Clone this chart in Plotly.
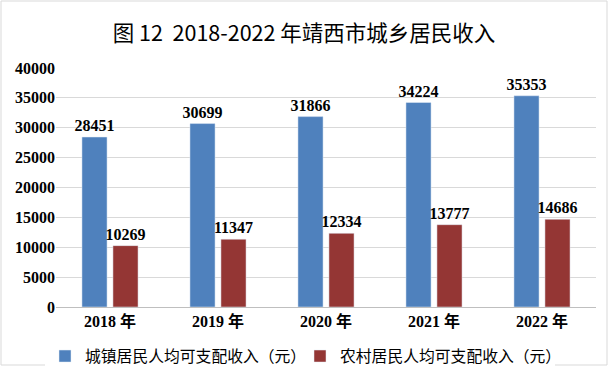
import plotly.graph_objects as go

years = ["2018 年", "2019 年", "2020 年", "2021 年", "2022 年"]
urban = [28451, 30699, 31866, 34224, 35353]
rural = [10269, 11347, 12334, 13777, 14686]
series_names = ["城镇居民人均可支配收入（元）", "农村居民人均可支配收入（元）"]
title_text = "图 12  2018-2022 年靖西市城乡居民收入"

W, H = 608, 366
ml, mr, mt, mb = 56, 12, 68, 59

serif = dict(family="Liberation Serif, Noto Sans CJK SC", size=16, color="#000000", weight="bold")

fig = go.Figure()
fig.add_trace(go.Bar(x=years, y=urban, name=series_names[0], marker_color="#4F81BD",
                     text=urban, textposition="outside", textfont=serif, cliponaxis=False,
                     constraintext="none"))
fig.add_trace(go.Bar(x=years, y=rural, name=series_names[1], marker_color="#943634",
                     text=rural, textposition="outside", textfont=serif, cliponaxis=False,
                     constraintext="none"))

pw = W - ml - mr
ph = H - mt - mb
fig.update_layout(
    width=W, height=H,
    margin=dict(l=ml, r=mr, t=mt, b=mb, autoexpand=False),
    paper_bgcolor="white", plot_bgcolor="white",
    title=dict(text=title_text, x=0.5, xanchor="center", y=1 - 33 / H, yanchor="middle",
               font=dict(family="Noto Sans CJK SC", size=21.5, color="#000000")),
    barmode="group", bargap=0.426, bargroupgap=0.19,
    showlegend=True,
    legend=dict(orientation="h", x=(45 - ml) / pw, xanchor="left", y=-0.135, yanchor="top",
                font=dict(family="Noto Sans CJK SC", size=15.8, color="#000000"),
                traceorder="normal", entrywidth=210, entrywidthmode="pixels"),
    yaxis=dict(range=[0, 40000], dtick=5000, tickformat="d", showgrid=True, gridcolor="#D9D9D9", gridwidth=1,
               zeroline=False, automargin=False, tickfont=serif, ticks="", showline=False),
    xaxis=dict(showline=True, linecolor="#BFBFBF", linewidth=1, ticks="", automargin=False,
               tickfont=serif),
)
fig.add_shape(type="rect", xref="paper", yref="paper",
              x0=-(ml - 1) / pw, x1=1 + (mr - 1) / pw, y0=-(mb - 1) / ph, y1=1 + (mt - 1) / ph,
              line=dict(color="#D9D9D9", width=1), fillcolor="rgba(0,0,0,0)", layer="below")

fig.write_html("out.html", config={"displayModeBar": False},
               post_script="document.body.style.margin='0';document.body.style.overflow='hidden';")
